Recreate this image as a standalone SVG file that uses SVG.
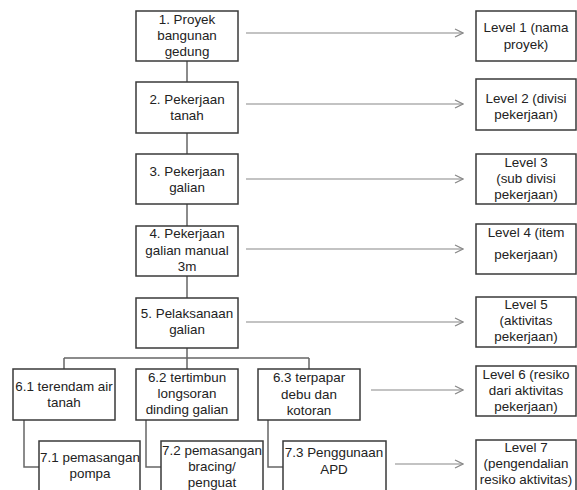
<svg xmlns="http://www.w3.org/2000/svg" width="577" height="490" viewBox="0 0 577 490">
<defs>
<style>
.box{fill:#fff;stroke:#3a3a3a;stroke-width:1.5}
.t{font-family:"Liberation Sans",Arial,sans-serif;font-size:13.4px;fill:#222;text-anchor:middle}
.ln{fill:none;stroke:#666;stroke-width:1.5}
.ar{fill:none;stroke:#888;stroke-width:1.2}
</style>
<marker id="chev" markerWidth="10" markerHeight="10" refX="9" refY="5" orient="auto" markerUnits="userSpaceOnUse">
<path d="M1,1 L9,5 L1,9" fill="none" stroke="#888" stroke-width="1.2"/>
</marker>
</defs>
<rect width="577" height="490" fill="#fff"/>
<g id="connectors">
<path class="ln" d="M187,61 V82 M187,133 V154 M187,204 V226 M187,276 V298 M187,348 V358 M64,358 H309 M64,358 V369 M187,358 V369 M309,358 V369"/>
<path class="ln" d="M24,420 V467 H39 M146,420 V467 H161 M268,420 V467 H283"/>
<line class="ar" x1="246" y1="33" x2="463" y2="33" marker-end="url(#chev)"/>
<line class="ar" x1="246" y1="104" x2="463" y2="104" marker-end="url(#chev)"/>
<line class="ar" x1="246" y1="179" x2="463" y2="179" marker-end="url(#chev)"/>
<line class="ar" x1="246" y1="249" x2="463" y2="249" marker-end="url(#chev)"/>
<line class="ar" x1="246" y1="322" x2="463" y2="322" marker-end="url(#chev)"/>
<line class="ar" x1="371" y1="390" x2="463" y2="390" marker-end="url(#chev)"/>
<line class="ar" x1="395" y1="464" x2="463" y2="464" marker-end="url(#chev)"/>
</g>
<g id="n1"><rect class="box" x="136" y="11" width="102" height="50"/><text class="t" x="187" y="24">1. Proyek</text><text class="t" x="187" y="40">bangunan</text><text class="t" x="187" y="56">gedung</text></g>
<g id="n2"><rect class="box" x="136" y="82" width="102" height="51"/><text class="t" x="187" y="104">2. Pekerjaan</text><text class="t" x="187" y="120">tanah</text></g>
<g id="n3"><rect class="box" x="136" y="154" width="102" height="50"/><text class="t" x="187" y="176">3. Pekerjaan</text><text class="t" x="187" y="192">galian</text></g>
<g id="n4"><rect class="box" x="136" y="226" width="102" height="50"/><text class="t" x="187" y="238">4. Pekerjaan</text><text class="t" x="187" y="255">galian manual</text><text class="t" x="187" y="271">3m</text></g>
<g id="n5"><rect class="box" x="136" y="298" width="102" height="50"/><text class="t" x="187" y="318">5. Pelaksanaan</text><text class="t" x="187" y="334">galian</text></g>
<g id="n61"><rect class="box" x="13" y="369" width="102" height="51"/><text class="t" x="64" y="391">6.1 terendam air</text><text class="t" x="64" y="407">tanah</text></g>
<g id="n62"><rect class="box" x="136" y="369" width="102" height="51"/><text class="t" x="187" y="382">6.2 tertimbun</text><text class="t" x="187" y="398">longsoran</text><text class="t" x="187" y="414">dinding galian</text></g>
<g id="n63"><rect class="box" x="258" y="369" width="102" height="51"/><text class="t" x="309" y="382">6.3 terpapar</text><text class="t" x="309" y="399">debu dan</text><text class="t" x="309" y="415">kotoran</text></g>
<g id="n71"><rect class="box" x="39" y="441" width="101" height="55"/><text class="t" x="90" y="462">7.1 pemasangan</text><text class="t" x="90" y="478">pompa</text></g>
<g id="n72"><rect class="box" x="161" y="441" width="102" height="55"/><text class="t" x="212" y="455">7.2 pemasangan</text><text class="t" x="212" y="471">bracing/</text><text class="t" x="212" y="487">penguat</text></g>
<g id="n73"><rect class="box" x="283" y="441" width="103" height="55"/><text class="t" x="334" y="457">7.3 Penggunaan</text><text class="t" x="334" y="474">APD</text></g>
<g id="l1"><rect class="box" x="476" y="11" width="100" height="50"/><text class="t" x="526" y="32">Level 1 (nama</text><text class="t" x="526" y="49">proyek)</text></g>
<g id="l2"><rect class="box" x="476" y="79" width="100" height="51"/><text class="t" x="526" y="103">Level 2 (divisi</text><text class="t" x="526" y="119">pekerjaan)</text></g>
<g id="l3"><rect class="box" x="476" y="154" width="100" height="50"/><text class="t" x="526" y="167">Level 3</text><text class="t" x="526" y="183">(sub divisi</text><text class="t" x="526" y="199">pekerjaan)</text></g>
<g id="l4"><rect class="box" x="476" y="224" width="100" height="50"/><text class="t" x="526" y="237">Level 4 (item</text><text class="t" x="526" y="259">pekerjaan)</text></g>
<g id="l5"><rect class="box" x="476" y="297" width="100" height="50"/><text class="t" x="526" y="309">Level 5</text><text class="t" x="526" y="325">(aktivitas</text><text class="t" x="526" y="341">pekerjaan)</text></g>
<g id="l6"><rect class="box" x="476" y="366" width="100" height="50"/><text class="t" x="526" y="379">Level 6 (resiko</text><text class="t" x="526" y="395">dari aktivitas</text><text class="t" x="526" y="411">pekerjaan)</text></g>
<g id="l7"><rect class="box" x="476" y="440" width="100" height="56"/><text class="t" x="526" y="452">Level 7</text><text class="t" x="526" y="468">(pengendalian</text><text class="t" x="526" y="484">resiko aktivitas)</text></g>
</svg>
